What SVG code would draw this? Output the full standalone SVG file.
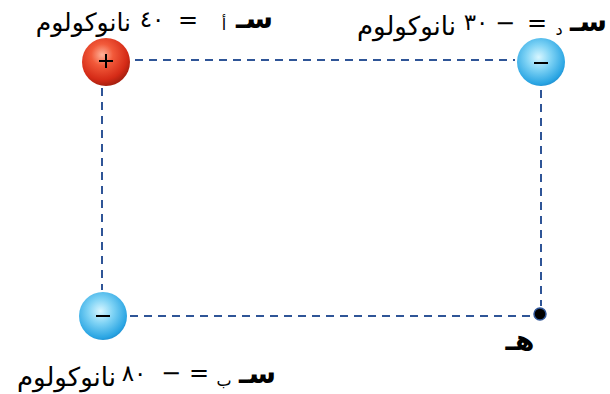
<svg xmlns="http://www.w3.org/2000/svg" width="610" height="394" viewBox="0 0 610 394">
<defs>
<radialGradient id="red" cx="0.42" cy="0.35" r="0.65">
<stop offset="0" stop-color="#ffb39a"/>
<stop offset="0.35" stop-color="#f25a3a"/>
<stop offset="0.8" stop-color="#d52b17"/>
<stop offset="1" stop-color="#a8200f"/>
</radialGradient>
<radialGradient id="blue" cx="0.45" cy="0.4" r="0.65">
<stop offset="0" stop-color="#d8f6ff"/>
<stop offset="0.4" stop-color="#7fd3f5"/>
<stop offset="0.85" stop-color="#2aa5e3"/>
<stop offset="1" stop-color="#1a85c8"/>
</radialGradient>
<style>
.dash{stroke:#2f5597;stroke-width:2;stroke-dasharray:8 6;fill:none}
.t{font-family:"DejaVu Sans",sans-serif;fill:#000}
.s{font-family:"DejaVu Sans",sans-serif;font-weight:bold;fill:#000}
.sign{stroke:#000;stroke-width:2;fill:none}
</style>
</defs>
<g id="connectors">
<line class="dash" x1="135" y1="60" x2="515" y2="60"/>
<line class="dash" x1="541" y1="90" x2="541" y2="306"/>
<line class="dash" x1="102" y1="88" x2="102" y2="290"/>
<line class="dash" x1="130" y1="316" x2="532" y2="316"/>
</g>
<g id="qa">
<circle cx="106" cy="62" r="24" fill="url(#red)"/>
<path class="sign" d="M99 61h14M106 54v14"/>
</g>
<g id="qd">
<circle cx="541" cy="62" r="24" fill="url(#blue)"/>
<path class="sign" d="M534 63h14"/>
</g>
<g id="qb">
<circle cx="103" cy="316" r="24" fill="url(#blue)"/>
<path class="sign" d="M96 316h14"/>
</g>
<g id="point-h">
<circle cx="540" cy="314" r="6" fill="#000" stroke="#2f5597" stroke-width="1.5"/>
<text class="s" x="520" y="350" font-size="28" text-anchor="middle">هـ</text>
</g>
<g id="label-a">
<text class="s" x="273" y="28" font-size="28" text-anchor="end">سـ</text>
<text class="t" x="224" y="30" font-size="16" text-anchor="middle">أ</text>
<text class="t" x="188" y="28" font-size="24" text-anchor="middle">=</text>
<text class="t" x="152" y="27" font-size="23" text-anchor="middle">٤٠</text>
<text class="t" x="131" y="31" font-size="25" text-anchor="end">نانوكولوم</text>
</g>
<g id="label-d">
<text class="s" x="607" y="31" font-size="28" text-anchor="end">سـ</text>
<text class="t" x="559" y="35" font-size="16" text-anchor="middle">د</text>
<text class="t" x="537" y="31" font-size="24" text-anchor="middle">=</text>
<text class="t" x="505" y="31" font-size="24" text-anchor="middle">−</text>
<text class="t" x="476" y="30" font-size="23" text-anchor="middle">٣٠</text>
<text class="t" x="456" y="35" font-size="26" text-anchor="end">نانوكولوم</text>
</g>
<g id="label-b">
<text class="s" x="276" y="383" font-size="28" text-anchor="end">سـ</text>
<text class="t" x="224" y="386" font-size="16" text-anchor="middle">ب</text>
<text class="t" x="199" y="381" font-size="24" text-anchor="middle">=</text>
<text class="t" x="171" y="381" font-size="24" text-anchor="middle">−</text>
<text class="t" x="134" y="381" font-size="23" text-anchor="middle">٨٠</text>
<text class="t" x="116" y="386" font-size="26" text-anchor="end">نانوكولوم</text>
</g>
</svg>
